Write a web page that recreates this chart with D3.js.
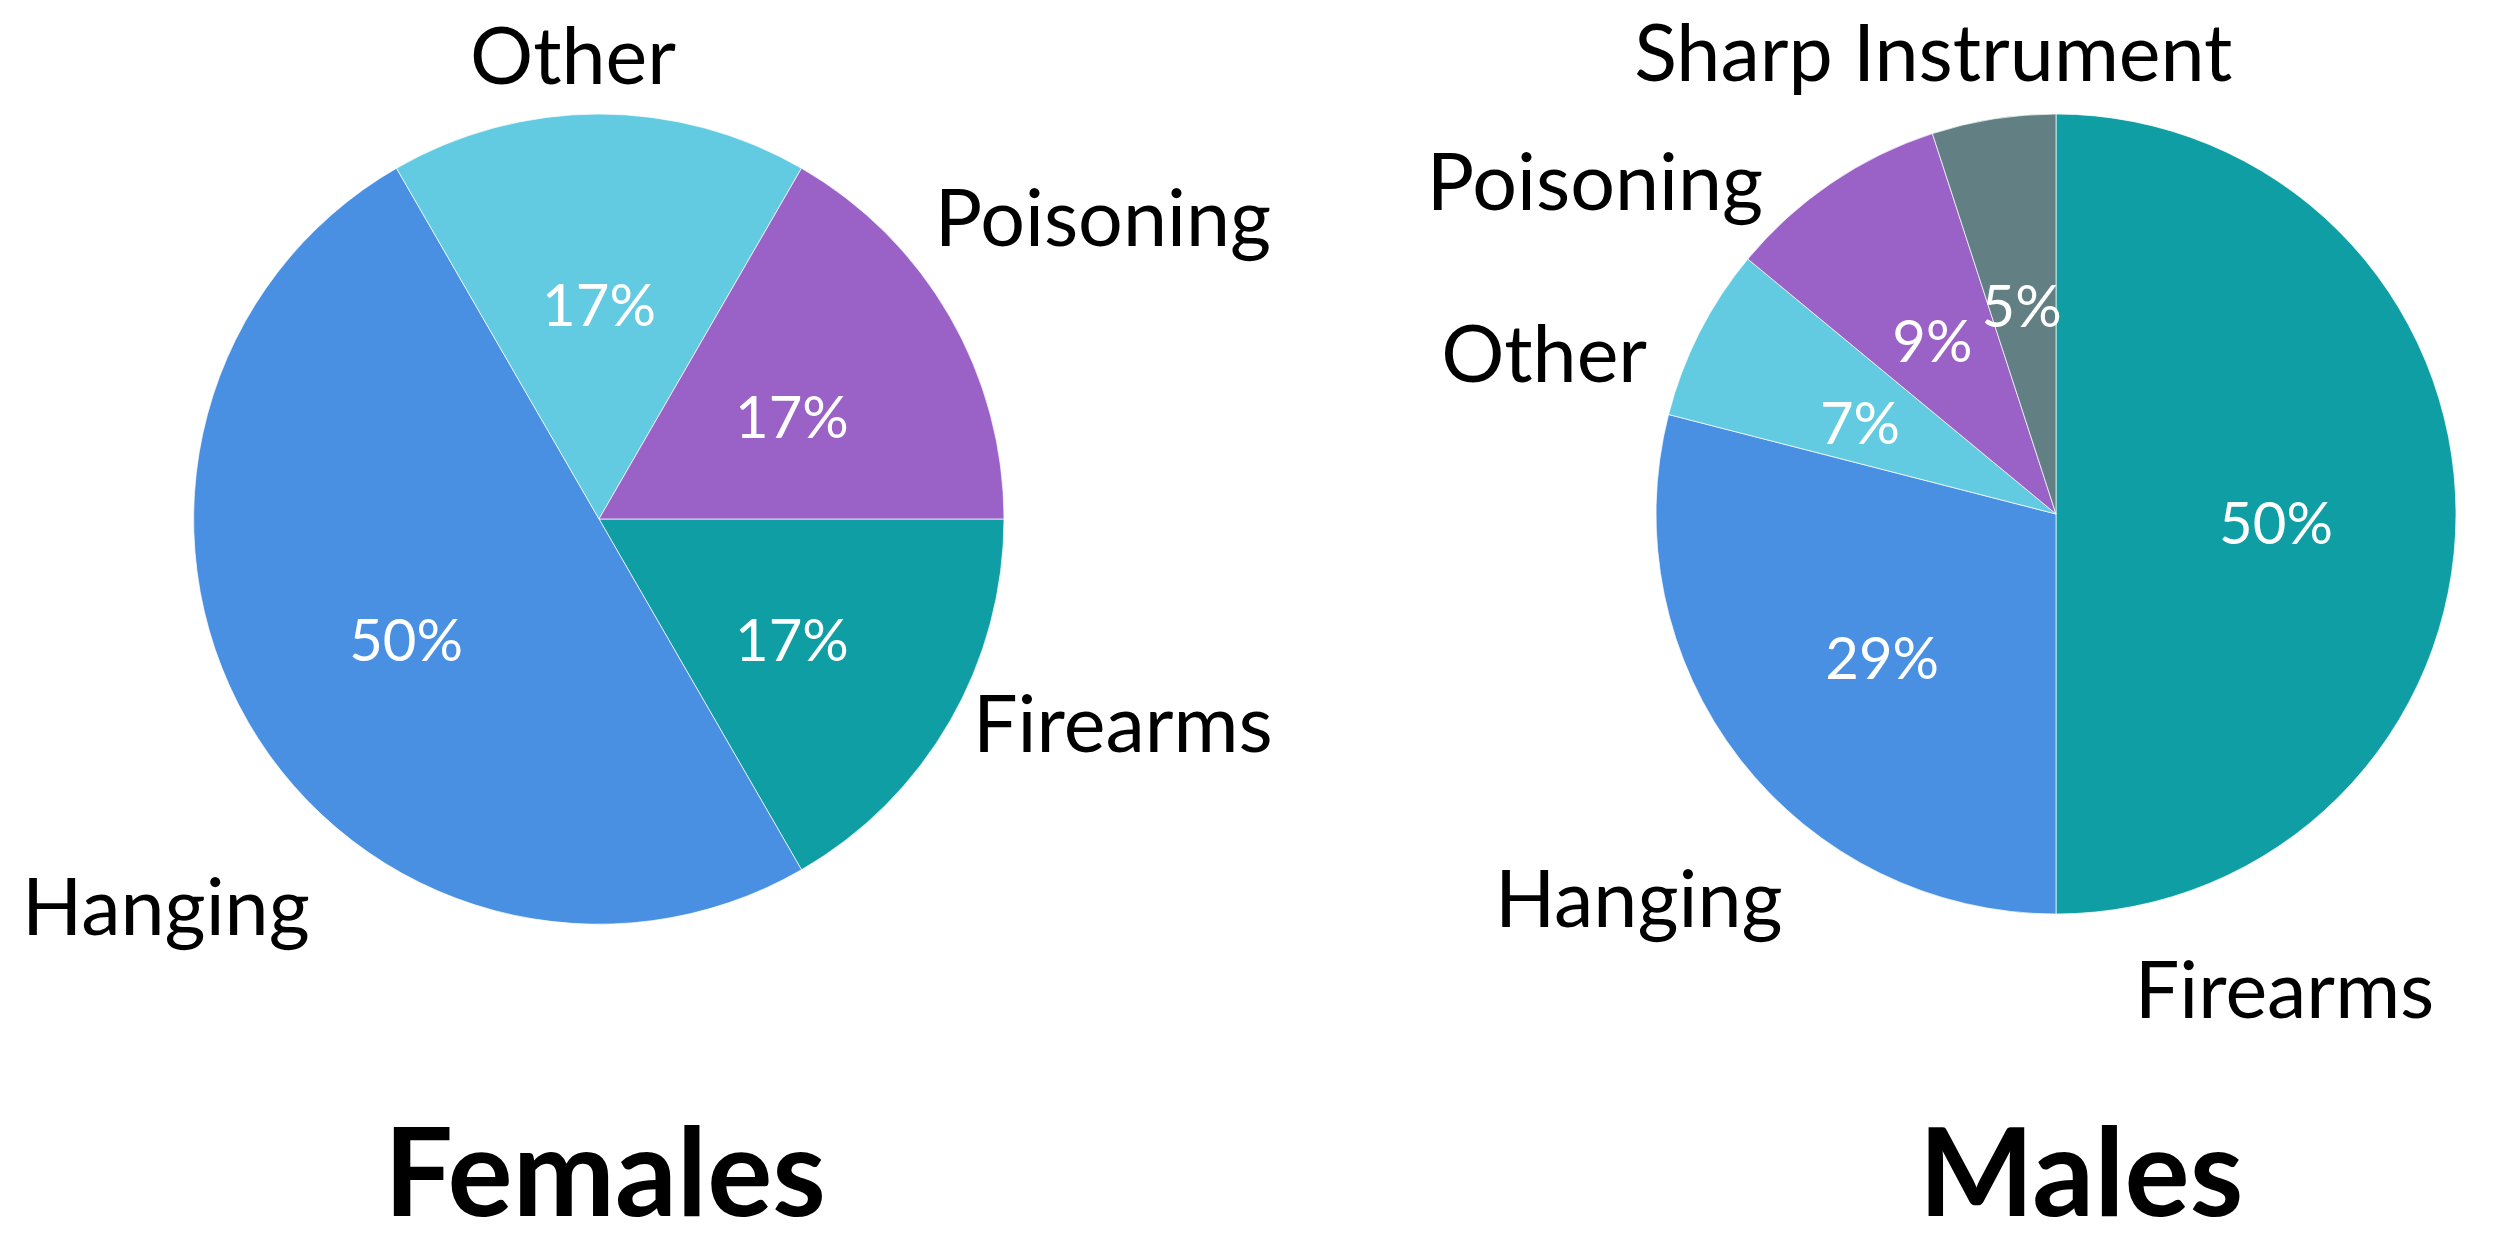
<!DOCTYPE html>
<html>
<head>
<meta charset="utf-8">
<script src="https://cdn.jsdelivr.net/npm/d3@7"></script>
<style>
  body { margin: 0; background: #fff; }
  svg { display: block; font-family: Lato, "Open Sans", sans-serif; }
</style>
</head>
<body>
<svg id="chart"></svg>
<script>
// data
var femaleCategories = ['Firearms', 'Hanging', 'Other', 'Poisoning'];
var femaleValues = [1, 3, 1, 1];

var maleCategories = ['Firearms', 'Hanging', 'Other', 'Poisoning', 'Sharp Instrument'];
var maleValues = [50, 29, 7, 9, 5];

var titles = ['Females', 'Males'];

var colors = {
    'Firearms': '#0f9ea3',
    'Hanging': '#4a90e2',
    'Other': '#62cbe2',
    'Poisoning': '#9a62c6',
    'Sharp Instrument': '#628084'
};

var width = 2493,
    height = 1242;

// where each outer label sits: [angle in degrees clockwise from 12 o'clock, radius factor, anchor]
var femaleLabelPos = {
    'Other': [356.8, 1.147, 'middle'],
    'Poisoning': [48.1, 1.114, 'start'],
    'Firearms': [118.7, 1.053, 'start'],
    'Hanging': [216.7, 1.195, 'end']
};
var maleLabelPos = {
    'Sharp Instrument': [345.1, 1.193, 'middle'],
    'Poisoning': [318.6, 1.107, 'end'],
    'Other': [291.4, 1.098, 'end'],
    'Hanging': [215.4, 1.18, 'end'],
    'Firearms': [170.6, 1.206, 'start']
};

var charts = [
    {cats: femaleCategories, vals: femaleValues, cx: 599, cy: 519, r: 405,
     start: Math.PI / 2, labels: femaleLabelPos, title: titles[0], titleX: 605},
    {cats: maleCategories, vals: maleValues, cx: 2056, cy: 514, r: 400,
     start: 0, labels: maleLabelPos, title: titles[1], titleX: 2081}
];

var svg = d3.select('#chart')
    .attr('width', width)
    .attr('height', height);

svg.append('rect')
    .attr('width', width)
    .attr('height', height)
    .attr('fill', '#fff');

charts.forEach(function(c) {
    var data = c.cats.map(function(name, i) { return {name: name, value: c.vals[i]}; });
    var total = d3.sum(c.vals);

    var pie = d3.pie()
        .sort(null)
        .value(function(d) { return d.value; })
        .startAngle(c.start)
        .endAngle(c.start + 2 * Math.PI);

    var arc = d3.arc().innerRadius(0).outerRadius(c.r);
    var pctArc = d3.arc().innerRadius(c.r * 0.55).outerRadius(c.r * 0.55);

    var g = svg.append('g')
        .attr('transform', 'translate(' + c.cx + ',' + c.cy + ')');

    var slices = pie(data);

    g.selectAll('path.slice')
        .data(slices)
        .enter().append('path')
        .attr('class', 'slice')
        .attr('d', arc)
        .attr('fill', function(d) { return colors[d.data.name]; })
        .attr('stroke', 'rgba(255,255,255,0.7)')
        .attr('stroke-width', 1);

    // percentages inside
    g.selectAll('text.pct')
        .data(slices)
        .enter().append('text')
        .attr('class', 'pct')
        .attr('transform', function(d) { return 'translate(' + pctArc.centroid(d) + ')'; })
        .attr('dy', '0.52em')
        .attr('text-anchor', 'middle')
        .attr('fill', '#fff')
        .style('font-size', '58px')
        .text(function(d) { return Math.round(d.data.value / total * 100) + '%'; });

    // category names outside
    g.selectAll('text.name')
        .data(slices)
        .enter().append('text')
        .attr('class', 'name')
        .attr('x', function(d) {
            var p = c.labels[d.data.name], a = p[0] * Math.PI / 180;
            return Math.sin(a) * p[1] * c.r;
        })
        .attr('y', function(d) {
            var p = c.labels[d.data.name], a = p[0] * Math.PI / 180;
            return -Math.cos(a) * p[1] * c.r;
        })
        .attr('dy', '0.36em')
        .attr('text-anchor', function(d) { return c.labels[d.data.name][2]; })
        .attr('fill', '#000')
        .style('font-size', '79px')
        .text(function(d) { return d.data.name; });

    svg.append('text')
        .attr('x', c.titleX)
        .attr('y', 1216)
        .attr('text-anchor', 'middle')
        .style('font-size', '122px')
        .style('font-weight', 'bold')
        .text(c.title);
});
</script>
</body>
</html>
